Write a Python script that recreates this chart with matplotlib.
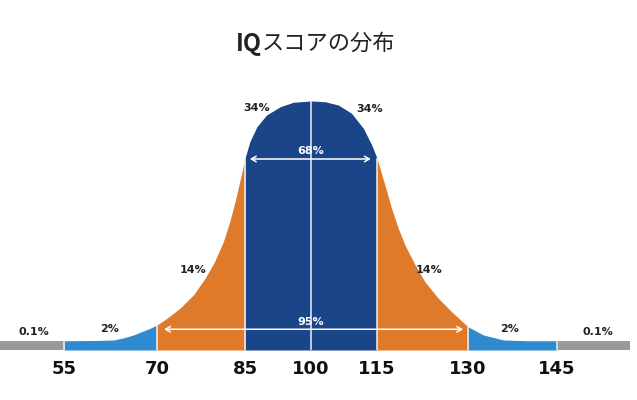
import numpy as np
import matplotlib
matplotlib.use("Agg")
import matplotlib.pyplot as plt

plt.rcParams['font.family'] = ['Noto Sans CJK JP', 'DejaVu Sans']

# data
title_bold = "IQ"
title_rest = "スコアの分布"
tick_iq = [55, 70, 85, 100, 115, 130, 145]
band_pct = ["0.1%", "2%", "14%", "34%", "34%", "14%", "2%", "0.1%"]
span_68 = "68%"
span_95 = "95%"

# curve height (peak = 100) at IQ values
iq_pts = [55, 60, 63, 64.5, 66.2, 68.9, 70, 71.7, 73.9, 76.2, 78.2, 79.8, 81.3, 82.4,
          83.3, 84.1, 85, 86.1, 87.7, 89.9, 93, 96, 100,
          103.2, 106.2, 109.2, 111.9, 113.8, 115, 116.3, 117.4, 118.5, 119.6, 121.3,
          122.9, 125.1, 127.3, 130, 132.6, 136, 140, 145]
curve_h = [3.7, 3.8, 4, 4.8, 6, 8.7, 10, 12.7, 16.7, 22, 28.7, 35.3, 43.3, 51.3,
           59.3, 67.3, 76.7, 83.3, 89.3, 94, 97.3, 99.1, 99.6,
           99.3, 98, 94.7, 88.7, 82, 76.7, 66, 56.7, 48.7, 42, 34,
           27.3, 20.7, 15.3, 9.3, 6, 4, 3.7, 3.7]
tail_h = 3.6

# layout: the picture stretches the outer bands, so map IQ -> pixel position
iq_breaks = [40, 55, 70, 85, 100, 115, 130, 145, 160]
px_breaks = [0, 64, 157, 245, 311, 377, 468, 557, 630]

def fwd(x):
    return np.interp(x, iq_breaks, px_breaks)

def inv(x):
    return np.interp(x, px_breaks, iq_breaks)

c_gray = "#999999"
c_blue = "#2f8bcf"
c_orange = "#e07a2b"
c_navy = "#1a4588"

fig = plt.figure(figsize=(6.37, 4.0), dpi=100)
ax = fig.add_axes([0, 0, 630 / 637, 1])
ax.set_xscale('function', functions=(fwd, inv))
ax.set_xlim(40, 160)
ax.set_ylim(-20, 140)
ax.axis('off')

x = np.array(iq_pts)
y = np.array(curve_h)

# gray tails
ax.fill_between([40, 55], 0, tail_h, color=c_gray, lw=0)
ax.fill_between([145, 160], 0, tail_h, color=c_gray, lw=0)

segments = [(55, 70, c_blue), (70, 85, c_orange), (85, 115, c_navy),
            (115, 130, c_orange), (130, 145, c_blue)]
for lo, hi, col in segments:
    m = (x >= lo) & (x <= hi)
    ax.fill_between(x[m], 0, y[m], color=col, lw=0)

# white separators
for t in tick_iq:
    h = np.interp(t, x, y)
    ax.vlines(t, 0, h, color="#f0f0f0", lw=1.1)

# span arrows
arr = dict(arrowstyle='<->,head_length=0.35,head_width=0.2', color='white', lw=1.1,
           shrinkA=0, shrinkB=0)
ax.annotate('', xy=(113.6, 76.4), xytext=(86.1, 76.4), arrowprops=arr)
ax.text(100, 79.8, span_68, ha='center', va='center', color='white',
        fontsize=8, fontweight='bold', family='DejaVu Sans')
ax.annotate('', xy=(129.2, 8.3), xytext=(71.2, 8.3), arrowprops=arr)
ax.text(100, 11.3, span_95, ha='center', va='center', color='white',
        fontsize=8, fontweight='bold', family='DejaVu Sans')

# band percentages
lab_pos = [(48, 7.2), (62.4, 8.3), (76.2, 32), (87.7, 96.8),
           (113.4, 96.6), (123.5, 32), (137, 8.3), (153.5, 7.3)]
for (lx, ly), s in zip(lab_pos, band_pct):
    ax.text(lx, ly, s, ha='center', va='center', color='#222222',
            fontsize=8, fontweight='bold', family='DejaVu Sans')

# tick labels
for t in tick_iq:
    ax.text(t, -7.4, str(t), ha='center', va='center', color='#111111',
            fontsize=13, fontweight='bold', family='DejaVu Sans')

# title: bold "IQ" + regular Japanese
fig.text(262 / 637, 1 - 43.5 / 400, title_bold, ha='right', va='center',
         fontsize=17, fontweight='bold', color='#222222')
fig.text(262 / 637, 1 - 43.5 / 400, title_rest, ha='left', va='center',
         fontsize=16, color='#222222')

fig.savefig("out.png", dpi=100)
